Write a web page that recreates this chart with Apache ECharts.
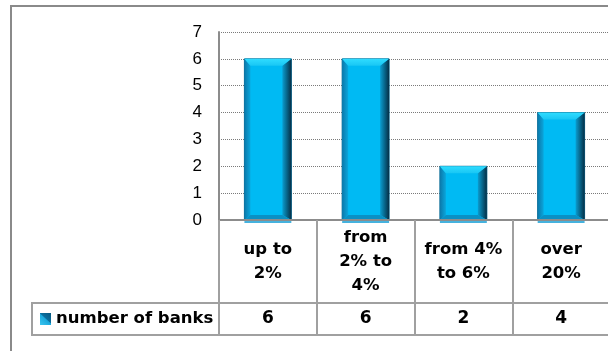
<!DOCTYPE html>
<html>
<head>
<meta charset="utf-8">
<script src="https://cdn.jsdelivr.net/npm/echarts@6/dist/echarts.min.js"></script>
<style>
  html, body { margin: 0; padding: 0; background: #ffffff; }
  #chart { width: 608px; height: 351px; }
</style>
</head>
<body>
<div id="chart"></div>
<script>
const categories = ['up to\n2%', 'from\n2% to\n4%', 'from 4%\nto 6%', 'over\n20%'];
const seriesName = 'number of banks';
const values = [6, 6, 2, 4];
const yTicks = [0, 1, 2, 3, 4, 5, 6, 7];

const chart = echarts.init(document.getElementById('chart'), null, { renderer: 'canvas' });
const G = echarts.graphic;
const boldFont = 'DejaVu Sans';

function renderBar(params, api) {
  const xi = api.value(0);
  const v = api.value(1);
  const base = api.coord([xi, 0]);
  const top = api.coord([xi, v]);
  const bw = api.size([1, 0])[0] * 0.48;
  const x0 = top[0] - bw / 2, x1 = top[0] + bw / 2;
  const y0 = top[1], y1 = base[1];
  const bl = 6, br = 9, bt = 7, bb = 5;
  return {
    type: 'group',
    children: [
      { type: 'rect', shape: { x: x0, y: y1, width: bw, height: 3 }, style: { fill: '#45b2de' } },
      { type: 'rect', shape: { x: x0, y: y0, width: bw, height: y1 - y0 }, style: { fill: '#00baf3', stroke: '#0b6890', lineWidth: 1 } },
      { type: 'polygon', shape: { points: [[x0, y0], [x0 + bl, y0 + bt], [x0 + bl, y1 - bb], [x0, y1]] },
        style: { fill: new G.LinearGradient(0, 0, 1, 0, [{ offset: 0, color: '#0b78aa' }, { offset: 1, color: '#0aa6dc' }]) } },
      { type: 'polygon', shape: { points: [[x1, y0], [x1 - br, y0 + bt], [x1 - br, y1 - bb], [x1, y1]] },
        style: { fill: new G.LinearGradient(0, 0, 1, 0, [{ offset: 0, color: '#0a9dd0' }, { offset: 1, color: '#052f46' }]) } },
      { type: 'polygon', shape: { points: [[x0, y0], [x1, y0], [x1 - br, y0 + bt], [x0 + bl, y0 + bt]] },
        style: { fill: new G.LinearGradient(0, 0, 0, 1, [{ offset: 0, color: '#2fdcff' }, { offset: 1, color: '#18c6f4' }]) } },
      { type: 'polygon', shape: { points: [[x0, y1], [x0 + bl, y1 - bb], [x1 - br, y1 - bb], [x1, y1]] },
        style: { fill: '#0a90c4' } }
    ]
  };
}

const option = {
  animation: false,
  backgroundColor: '#ffffff',
  grid: { left: 219, top: 32, width: 391, height: 188, containLabel: false, outerBoundsMode: 'none' },
  legend: {
    show: true,
    left: 40, top: 309, padding: 0,
    itemWidth: 11, itemHeight: 12,
    icon: 'rect',
    data: [{ name: seriesName, itemStyle: { color: new G.LinearGradient(0, 1, 1, 0, [{ offset: 0, color: '#3cc6f0' }, { offset: 0.5, color: '#1aa8dc' }, { offset: 0.55, color: '#0a6e9e' }, { offset: 1, color: '#07587f' }]) } }],
    textStyle: { fontFamily: boldFont, fontWeight: 'bold', fontSize: 16.5, color: '#000', lineHeight: 20 },
    selectedMode: false
  },
  xAxis: [
    {
      type: 'category',
      data: categories,
      boundaryGap: true,
      z: 5,
      axisLine: { show: true, lineStyle: { color: '#8c8c8c', width: 2 } },
      axisTick: { show: true, length: 115, interval: 0, lineStyle: { color: '#a0a0a0', width: 2 } },
      axisLabel: { interval: 0, margin: 41.5, verticalAlign: 'middle', fontFamily: boldFont, fontWeight: 'bold', fontSize: 16.5, lineHeight: 24, color: '#000' },
      splitLine: { show: false }
    },
    {
      type: 'category',
      data: values.map(String),
      position: 'bottom',
      boundaryGap: true,
      axisLine: { show: false },
      axisTick: { show: false },
      axisLabel: { interval: 0, margin: 99, verticalAlign: 'middle', fontFamily: boldFont, fontWeight: 'bold', fontSize: 17, color: '#000' },
      splitLine: { show: false }
    }
  ],
  yAxis: {
    type: 'value',
    min: yTicks[0], max: yTicks[yTicks.length - 1], interval: 1,
    axisLine: { show: true, lineStyle: { color: '#8c8c8c', width: 2 } },
    axisTick: { show: false },
    axisLabel: { margin: 17, fontFamily: 'Liberation Sans', fontSize: 17, color: '#000' },
    splitLine: { show: true, lineStyle: { color: '#7a7a7a', width: 1, type: [1, 1] } }
  },
  series: [{
    name: seriesName,
    type: 'custom',
    xAxisIndex: 0,
    renderItem: renderBar,
    encode: { x: 0, y: 1 },
    itemStyle: { color: '#00baf3' },
    data: values.map((v, i) => [i, v])
  }],
  graphic: [
    { type: 'rect', shape: { x: 11, y: 6, width: 700, height: 500 }, style: { fill: null, stroke: '#8a8a8a', lineWidth: 2 }, silent: true },
    { type: 'line', shape: { x1: 32, y1: 303, x2: 620, y2: 303 }, style: { stroke: '#a0a0a0', lineWidth: 2 }, silent: true },
    { type: 'line', shape: { x1: 32, y1: 335, x2: 620, y2: 335 }, style: { stroke: '#a0a0a0', lineWidth: 2 }, silent: true },
    { type: 'line', shape: { x1: 32, y1: 302, x2: 32, y2: 336 }, style: { stroke: '#a0a0a0', lineWidth: 2 }, silent: true }
  ]
};

chart.setOption(option);
</script>
</body>
</html>
